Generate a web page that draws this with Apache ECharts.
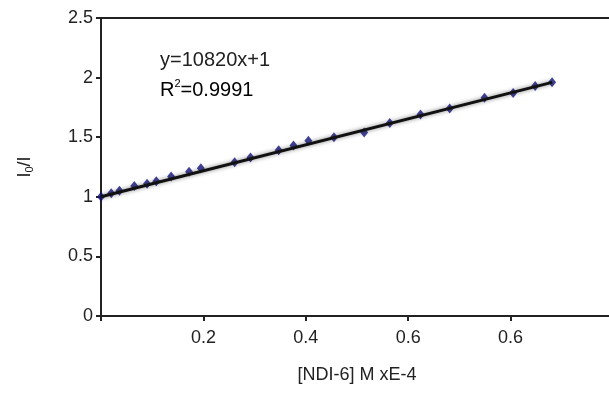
<!DOCTYPE html>
<html>
<head>
<meta charset="utf-8">
<script src="https://cdn.jsdelivr.net/npm/echarts@6/dist/echarts.min.js"></script>
<style>
  html, body { margin: 0; padding: 0; background: #fff; }
  #chart { width: 609px; height: 393px; }
</style>
</head>
<body>
<div id="chart"></div>
<script>
// measured points, [NDI-6] (axis units) vs I0/I
const concX = [0, 0.02, 0.036, 0.065, 0.09, 0.108, 0.137, 0.172, 0.195, 0.261, 0.292,
  0.347, 0.376, 0.405, 0.455, 0.514, 0.564, 0.624, 0.681, 0.749, 0.805, 0.848, 0.881];
const ratioY = [1.0, 1.03, 1.05, 1.09, 1.11, 1.13, 1.17, 1.21, 1.24, 1.29, 1.33,
  1.39, 1.43, 1.47, 1.5, 1.54, 1.62, 1.69, 1.74, 1.83, 1.87, 1.93, 1.96];
// linear fit endpoints
const fitX = [0, 0.881];
const fitY = [1.0, 1.96];
const xTickLabels = ['', '0.2', '0.4', '0.6', '0.6', '1'];
const yTickLabels = ['0', '0.5', '1', '1.5', '2', '2.5'];

const font = 'Liberation Sans, Arial, Helvetica, sans-serif';
const ink = '#222';

const chart = echarts.init(document.getElementById('chart'));

const option = {
  animation: false,
  backgroundColor: '#fff',
  grid: {
    left: 101,
    right: -4,
    top: 18,
    bottom: 77,
    outerBoundsMode: 'none',
    containLabel: false,
    show: true,
    borderColor: ink,
    borderWidth: 2
  },
  xAxis: {
    type: 'value',
    min: 0,
    max: 1,
    interval: 0.2,
    name: '[NDI-6] M xE-4',
    nameLocation: 'middle',
    nameGap: 50,
    nameTextStyle: { fontFamily: font, fontSize: 18, color: ink },
    axisLine: { lineStyle: { color: ink, width: 2 } },
    axisTick: { length: 5, lineStyle: { color: ink, width: 2 } },
    splitLine: { show: false },
    axisLabel: {
      fontFamily: font, fontSize: 18, color: ink, margin: 13,
      formatter: v => xTickLabels[Math.round(v / 0.2)]
    }
  },
  yAxis: {
    type: 'value',
    min: 0,
    max: 2.5,
    interval: 0.5,
    name: '{a|I}{b|0}{a|/I}',
    nameLocation: 'middle',
    nameRotate: 90,
    nameGap: 66,
    nameTextStyle: {
      rich: {
        a: { fontFamily: font, fontSize: 18, color: ink, lineHeight: 20 },
        b: { fontFamily: font, fontSize: 11, color: ink, verticalAlign: 'bottom', lineHeight: 20 }
      }
    },
    axisLine: { show: true, lineStyle: { color: ink, width: 2 } },
    axisTick: { show: true, length: 5, lineStyle: { color: ink, width: 2 } },
    splitLine: { show: false },
    axisLabel: {
      fontFamily: font, fontSize: 18, color: ink, margin: 8,
      formatter: v => yTickLabels[Math.round(v / 0.5)]
    }
  },
  graphic: [
    {
      type: 'text', left: 160, top: 50,
      style: { text: 'y=10820x+1', font: '20px ' + font, fill: ink }
    },
    {
      type: 'text', left: 160, top: 78,
      style: {
        text: '{a|R}{s|2}{a|=0.9991}',
        rich: {
          a: { fontFamily: font, fontSize: 20, color: ink, lineHeight: 24 },
          s: { fontFamily: font, fontSize: 11, color: ink, verticalAlign: 'top', lineHeight: 12 }
        }
      }
    }
  ],
  series: [
    {
      type: 'scatter',
      data: concX.map((x, i) => [x, ratioY[i]]),
      symbol: 'diamond',
      symbolSize: [8, 10],
      itemStyle: { color: '#14147e' },
      z: 2
    },
    {
      type: 'line',
      data: fitX.map((x, i) => [x, fitY[i]]),
      symbol: 'none',
      lineStyle: { color: '#111', width: 3, shadowBlur: 4, shadowColor: 'rgba(0,0,0,0.5)' },
      z: 3
    }
  ]
};

chart.setOption(option);
</script>
</body>
</html>
